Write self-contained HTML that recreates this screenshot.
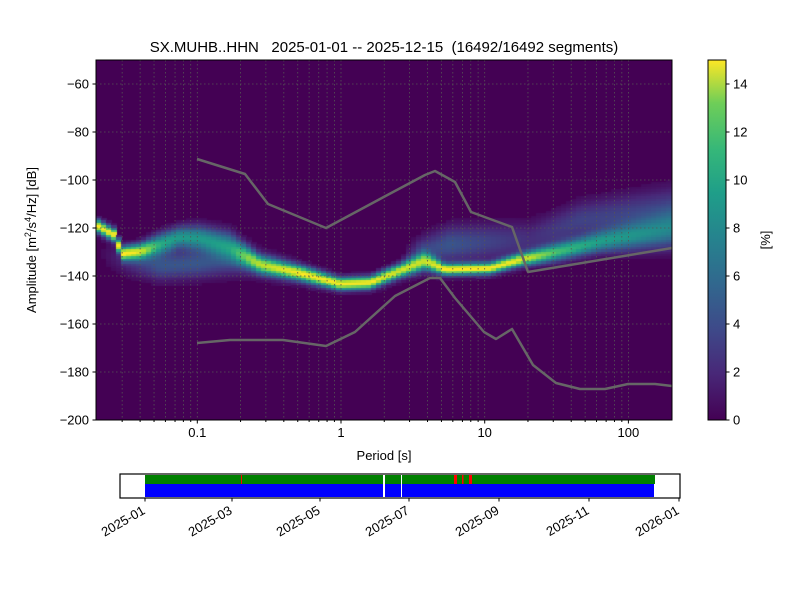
<!DOCTYPE html>
<html><head><meta charset="utf-8"><style>
body{margin:0;background:#fff;width:800px;height:600px;overflow:hidden;font-family:"Liberation Sans","DejaVu Sans",sans-serif}
#c{position:absolute;left:96px;top:60px}
svg{position:absolute;left:0;top:0}
</style></head><body>
<canvas id="c" width="576" height="360"></canvas>
<svg width="800" height="600" xmlns="http://www.w3.org/2000/svg" font-family="Liberation Sans, DejaVu Sans, sans-serif" font-size="13">
<defs><linearGradient id="vir" x1="0" y1="1" x2="0" y2="0">
<stop offset="0" stop-color="#440154"/><stop offset="0.13" stop-color="#482878"/><stop offset="0.25" stop-color="#3e4989"/><stop offset="0.38" stop-color="#31688e"/><stop offset="0.5" stop-color="#26828e"/><stop offset="0.63" stop-color="#1f9e89"/><stop offset="0.75" stop-color="#35b779"/><stop offset="0.88" stop-color="#6ece58"/><stop offset="1" stop-color="#fde725"/></linearGradient></defs>
<g id="grid" stroke="#555" stroke-width="0.8" stroke-dasharray="1.5,2.5" fill="none"></g>
<g fill="none" stroke="#666" stroke-width="2.5" stroke-linejoin="round">
<polyline points="197,159 245,174 268,204 326,228 380,199 425,175 435,171 455,182 471,212 512,227 528,272 672,248"/>
<polyline points="197,343 230,340 283,340 326,346 355,332 395,296 430,278 440,278 455,298 484,332 496,339 512,329 533,365 556,383 580,389 605,389 628,384 655,384 672,386"/>
</g>
<rect x="96" y="60" width="576" height="360" fill="none" stroke="#000" stroke-width="1"/>
<g id="ticks" stroke="#000" stroke-width="1"></g>
<g id="lbl" fill="#000"></g>
<text x="384" y="52" text-anchor="middle" font-size="15" style="white-space:pre" xml:space="preserve">SX.MUHB..HHN   2025-01-01 -- 2025-12-15  (16492/16492 segments)</text>
<text x="384" y="460" text-anchor="middle">Period [s]</text>
<text transform="translate(36,240) rotate(-90)" text-anchor="middle">Amplitude [m<tspan font-size="9" dy="-5">2</tspan><tspan dy="5">/s</tspan><tspan font-size="9" dy="-5">4</tspan><tspan dy="5">/Hz] [dB]</tspan></text>
<rect x="708" y="60" width="18" height="360" fill="url(#vir)" stroke="#000" stroke-width="1"/>
<text transform="translate(770,240) rotate(-90)" text-anchor="middle">[%]</text>
<rect x="120" y="474" width="560" height="24" fill="#fff" stroke="#000" stroke-width="1.2"/>
<rect x="145" y="475" width="510" height="9" fill="#008000"/>
<rect x="145" y="484" width="509" height="13" fill="#0000ff"/>
<rect x="383" y="475" width="2" height="22" fill="#fff"/>
<rect x="401" y="475" width="1" height="22" fill="#fff"/>
<rect x="241" y="475" width="1" height="9" fill="#f00"/>
<rect x="454" y="475" width="3" height="9" fill="#f00"/>
<rect x="462" y="475" width="1.5" height="9" fill="#f00"/>
<rect x="469" y="475" width="3" height="9" fill="#f00"/>
<g id="tl"></g>
</svg>
<script>
const NS="http://www.w3.org/2000/svg";
function el(p,t,a,txt){const e=document.createElementNS(NS,t);for(const k in a)e.setAttribute(k,a[k]);if(txt!==undefined)e.textContent=txt;p.appendChild(e);return e;}
const X=p=>341+143.7*Math.log10(p), Y=d=>60+(-50-d)*2.4;
const grid=document.getElementById('grid'),ticks=document.getElementById('ticks'),lbl=document.getElementById('lbl');
for(let e=-2;e<=2;e++)for(let m=1;m<10;m++){const x=X(m*Math.pow(10,e));if(x<97||x>671)continue;
 el(grid,'line',{x1:x,y1:60,x2:x,y2:420});
 el(ticks,'line',{x1:x,y1:420,x2:x,y2:m==1?423.5:422});
 if(m==1)el(lbl,'text',{x:x,y:437,'text-anchor':'middle'},[0.1,1,10,100][e+1]);}
for(let d=-60;d>=-200;d-=20){const y=Y(d);if(d>-200)el(grid,'line',{x1:96,y1:y,x2:672,y2:y});
 el(ticks,'line',{x1:92.5,y1:y,x2:96,y2:y});el(lbl,'text',{x:89,y:y+4.5,'text-anchor':'end'},'\u2212'+(-d));}
for(let v=0;v<=14;v+=2){const y=420-24*v;el(ticks,'line',{x1:726,y1:y,x2:729.5,y2:y});el(lbl,'text',{x:733,y:y+4.5},v);}
const tl=document.getElementById('tl');
[['2025-01',145],['2025-03',232],['2025-05',320],['2025-07',409],['2025-09',499],['2025-11',589],['2026-01',679]].forEach(([t,x])=>{
 el(tl,'line',{x1:x,y1:498,x2:x,y2:501.5,stroke:'#000'});
 el(tl,'text',{transform:`translate(${x+1},${513}) rotate(-30)`,'text-anchor':'end','font-size':'13'},t);});
const vir=[[68,1,84],[72,40,120],[62,73,137],[49,104,142],[38,130,142],[31,158,137],[53,183,121],[110,206,88],[181,222,43],[253,231,37]];
function col(v){let t=Math.max(0,Math.min(1,v/15))*(vir.length-1);const i=Math.min(vir.length-2,Math.floor(t)),f=t-i;return vir[i].map((c,k)=>Math.round(c+(vir[i+1][k]-c)*f));}
function interp(pts,x){if(x<=pts[0][0])return pts[0].slice(1);for(let i=1;i<pts.length;i++)if(x<=pts[i][0]){const a=pts[i-1],b=pts[i],f=(x-a[0])/(b[0]-a[0]);return a.slice(1).map((v,k)=>v+(b[k+1]-v)*f);}return pts[pts.length-1].slice(1);}
const main=[[96,-119,1.8,15],[118,-124,1.8,15],[119,-131,1.8,15],[140,-130,2.2,13],[160,-127,3,9],[180,-124,3,8],[200,-124.5,3.5,8],[230,-128,4,8],[260,-135.5,2.5,12],[300,-139,2.2,15],[340,-143.5,1.8,15],[370,-143,1.8,15],[400,-138,2,14],[425,-134,2.5,12],[445,-137.5,1.6,15],[490,-137,1.6,15],[520,-133.5,1.8,14],[560,-130,2.5,10],[600,-126,3,8],[672,-121,5,6]];
const sec=[[96,-130,4,0],[130,-134,4,2],[160,-136,4,4],[200,-135,4,4],[250,-134,4,2],[300,-138,4,0],[400,-135,4,0],[420,-130,4,3],[450,-127,5,4],[490,-126,5,3],[530,-125,5,2],[580,-117,5,3],[672,-112,6,3]];
const ctx=document.getElementById('c').getContext('2d');
ctx.fillStyle='rgb(68,1,84)';ctx.fillRect(0,0,576,360);
const cw=5;
for(let cx=0;cx<576;cx+=cw){const xm=96+cx+cw/2;const m=interp(main,xm),s=interp(sec,xm);
 for(let d=-50;d>-200;d-=1){const dd=d-0.5;
  let v=m[2]*Math.exp(-0.5*Math.pow((dd-m[0])/m[1],2))+s[2]*Math.exp(-0.5*Math.pow((dd-s[0])/s[1],2));
  if(v<0.4)continue;const c=col(v);ctx.fillStyle=`rgb(${c[0]},${c[1]},${c[2]})`;
  ctx.fillRect(Math.floor(cx),Math.floor((-50-d)*2.4),cw+1,3);}}
</script>
</body></html>
